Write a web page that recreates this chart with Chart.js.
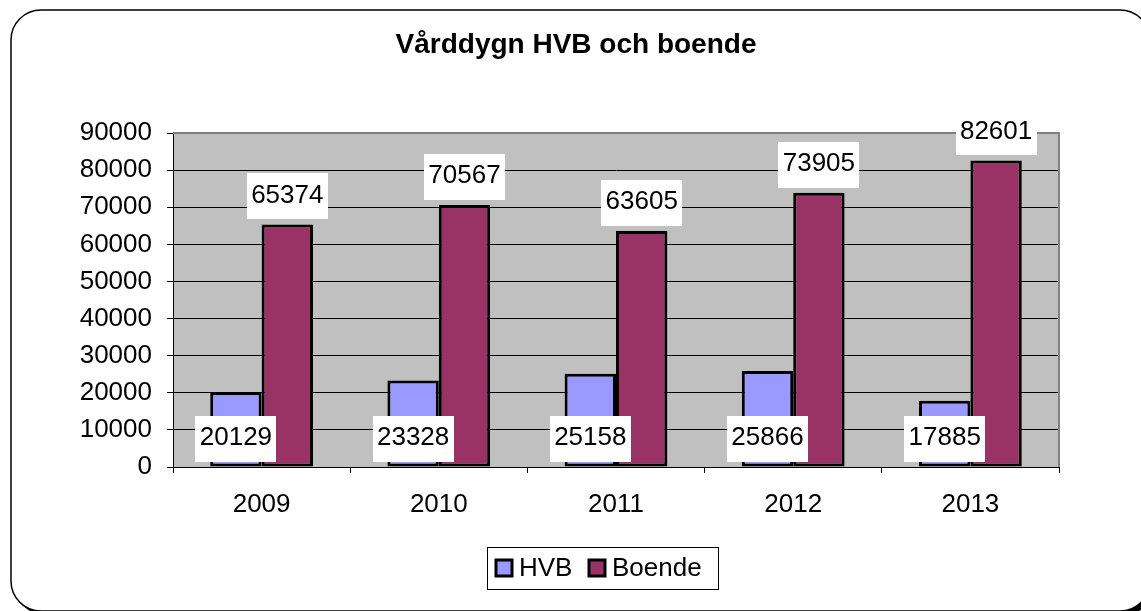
<!DOCTYPE html>
<html>
<head>
<meta charset="utf-8">
<script src="https://cdn.jsdelivr.net/npm/chart.js@4"></script>
<style>
  html, body { margin: 0; padding: 0; background: #fff; }
  #wrap { width: 1141px; height: 611px; position: relative; }
</style>
</head>
<body>
<div id="wrap"><canvas id="c" width="1141" height="611"></canvas></div>
<script>
const title = 'Vårddygn HVB och boende';
const years = ['2009', '2010', '2011', '2012', '2013'];
const hvb = [20129, 23328, 25158, 25866, 17885];
const boende = [65374, 70567, 63605, 73905, 82601];
const seriesNames = ['HVB', 'Boende'];
const seriesColors = ['#9999ff', '#993366'];
const yMin = 0, yMax = 90000, yStep = 10000;

const FONT = "'Liberation Sans', Arial, sans-serif";

function roundRect(ctx, x, y, w, h, r) {
  ctx.beginPath();
  ctx.moveTo(x + r, y);
  ctx.lineTo(x + w - r, y);
  ctx.arcTo(x + w, y, x + w, y + r, r);
  ctx.lineTo(x + w, y + h - r);
  ctx.arcTo(x + w, y + h, x + w - r, y + h, r);
  ctx.lineTo(x + r, y + h);
  ctx.arcTo(x, y + h, x, y + h - r, r);
  ctx.lineTo(x, y + r);
  ctx.arcTo(x, y, x + r, y, r);
  ctx.closePath();
}

const decor = {
  id: 'decor',
  beforeDraw(chart) {
    const ctx = chart.ctx;
    const a = chart.chartArea;
    ctx.save();
    ctx.fillStyle = '#000';
    roundRect(ctx, 15, 14, 1139, 601, 30);
    ctx.fill();
    ctx.fillStyle = '#fff';
    roundRect(ctx, 11, 10, 1139, 601, 30);
    ctx.fill();
    ctx.lineWidth = 1.5;
    ctx.strokeStyle = '#000';
    ctx.stroke();
    ctx.fillStyle = '#c0c0c0';
    ctx.fillRect(a.left, a.top, a.right - a.left, a.bottom - a.top);
    ctx.restore();
  },
  beforeDatasetsDraw(chart) {
    const ctx = chart.ctx;
    const a = chart.chartArea;
    ctx.save();
    ctx.strokeStyle = '#808080';
    ctx.lineWidth = 2;
    ctx.beginPath();
    ctx.moveTo(a.left, a.top);
    ctx.lineTo(a.right, a.top);
    ctx.lineTo(a.right, a.bottom);
    ctx.stroke();
    ctx.restore();
  },
  afterDatasetsDraw(chart) {
    const ctx = chart.ctx;
    ctx.save();
    ctx.font = '26px ' + FONT;
    ctx.textAlign = 'center';
    ctx.textBaseline = 'middle';
    chart.data.datasets.forEach((ds, di) => {
      const meta = chart.getDatasetMeta(di);
      meta.data.forEach((el, i) => {
        const txt = String(ds.data[i]);
        const w = Math.round(ctx.measureText(txt).width) + 9;
        const h = 46;
        const bottom = di === 0 ? el.base - 5 : el.y - 5;
        const top = bottom - h;
        ctx.fillStyle = '#fff';
        ctx.fillRect(Math.round(el.x - w / 2), Math.round(top), w, h);
        ctx.fillStyle = '#000';
        ctx.fillText(txt, el.x, top + h / 2 - 1);
      });
    });
    ctx.restore();
  },
  afterDraw(chart) {
    const ctx = chart.ctx;
    ctx.save();
    ctx.fillStyle = '#000';
    ctx.font = 'bold 28px ' + FONT;
    ctx.textAlign = 'center';
    ctx.textBaseline = 'alphabetic';
    ctx.fillText(title, 576, 53);
    const lx = 487, ly = 547, lw = 231, lh = 42;
    ctx.fillStyle = '#fff';
    ctx.fillRect(lx, ly, lw, lh);
    ctx.strokeStyle = '#000';
    ctx.lineWidth = 1;
    ctx.strokeRect(lx + 0.5, ly + 0.5, lw, lh);
    ctx.font = '26px ' + FONT;
    ctx.textAlign = 'left';
    ctx.textBaseline = 'middle';
    const items = [{ mx: 496, tx: 519 }, { mx: 589, tx: 612 }];
    seriesNames.forEach((name, i) => {
      const it = items[i];
      ctx.fillStyle = seriesColors[i];
      ctx.fillRect(it.mx, 560, 16, 16);
      ctx.lineWidth = 3;
      ctx.strokeStyle = '#000';
      ctx.strokeRect(it.mx, 560, 16, 16);
      ctx.fillStyle = '#000';
      ctx.fillText(name, it.tx, 569);
    });
    ctx.restore();
  }
};

new Chart(document.getElementById('c'), {
  type: 'bar',
  data: {
    labels: years,
    datasets: [
      { label: seriesNames[0], data: hvb, backgroundColor: seriesColors[0], borderColor: '#000', borderWidth: 3, borderSkipped: false },
      { label: seriesNames[1], data: boende, backgroundColor: seriesColors[1], borderColor: '#000', borderWidth: 3, borderSkipped: false }
    ]
  },
  options: {
    responsive: false,
    animation: false,
    datasets: { bar: { barPercentage: 1.0, categoryPercentage: 0.58 } },
    layout: { padding: { left: 0, top: 133, right: 82, bottom: 0 } },
    plugins: {
      legend: { display: false },
      title: { display: false },
      tooltip: { enabled: false }
    },
    scales: {
      x: {
        grid: { offset: true, drawOnChartArea: false, color: '#000', lineWidth: 1, tickLength: 6 },
        border: { color: '#000', width: 1 },
        ticks: { color: '#000', font: { family: FONT, size: 26 }, padding: 16, maxRotation: 0 },
        afterFit(scale) { scale.height = 144; }
      },
      y: {
        min: yMin, max: yMax,
        grid: { color: '#000', lineWidth: 1, tickLength: 6 },
        border: { color: '#000', width: 1 },
        ticks: { stepSize: yStep, color: '#000', font: { family: FONT, size: 26 }, padding: 15,
                 callback: (v) => String(v) },
        afterFit(scale) { scale.width = 173; }
      }
    }
  },
  plugins: [decor]
});
</script>
</body>
</html>
